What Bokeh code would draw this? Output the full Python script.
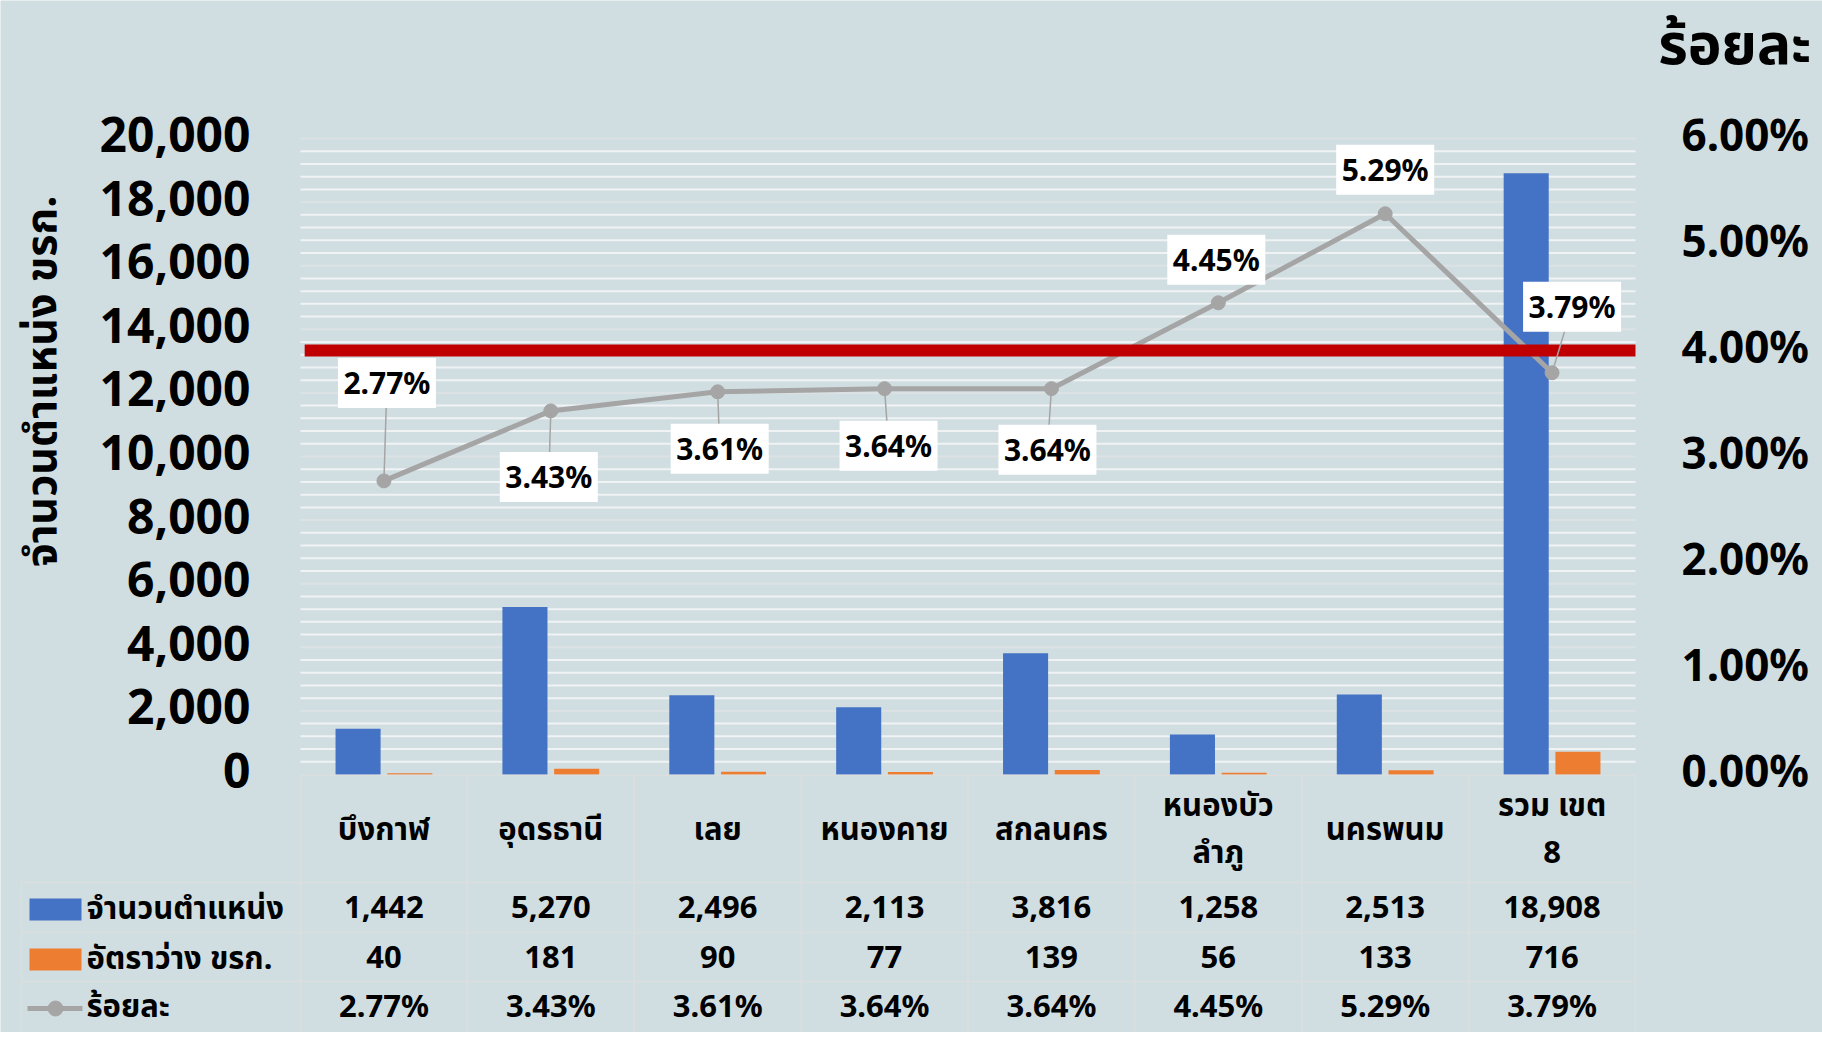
import numpy as np
from bokeh.plotting import figure
from bokeh.models import Range1d
from bokeh.core.properties import value
from bokeh.embed import file_html
from bokeh.resources import INLINE

# ---------------- data ----------------
categories = ["บึงกาฬ", "อุดรธานี", "เลย", "หนองคาย", "สกลนคร", "หนองบัว\nลำภู", "นครพนม", "รวม เขต\n8"]
positions = [1442, 5270, 2496, 2113, 3816, 1258, 2513, 18908]
vacancies = [40, 181, 90, 77, 139, 56, 133, 716]
percent = [2.77, 3.43, 3.61, 3.64, 3.64, 4.45, 5.29, 3.79]
threshold_pct = 4.0
series_names = ["จำนวนตำแหน่ง", "อัตราว่าง ขรก.", "ร้อยละ"]
left_ticks = [0, 2000, 4000, 6000, 8000, 10000, 12000, 14000, 16000, 18000, 20000]
left_tick_labels = ["0", "2,000", "4,000", "6,000", "8,000", "10,000", "12,000", "14,000", "16,000", "18,000", "20,000"]
right_ticks = [0, 1, 2, 3, 4, 5, 6]
right_tick_labels = ["0.00%", "1.00%", "2.00%", "3.00%", "4.00%", "5.00%", "6.00%"]
y_title = "จำนวนตำแหน่ง ขรก."
right_title = "ร้อยละ"

# ---------------- styles / layout ----------------
BG = "#D0DEE2"
BLUE = "#4472C4"
ORANGE = "#ED7D31"
GRAY = "#A5A5A5"
RED = "#C00000"
GRID_MINOR = "#F0F2F3"
GRID_MAJOR = "#DCE2E4"
TABLE_LINE = "#DCDEDE"
FONT = value("Noto Sans, Noto Sans Thai, sans-serif")

W, H = 1822, 1032
FL, FR, FT, FB = 300, 1635, 138, 774   # plot frame in pixels
n = len(categories)
xpx = (FR - FL) / n
ymax = 20000
ypx = (FB - FT) / ymax
pmax = 6.0
ppx = (FB - FT) / pmax

# data-label offsets (pixels, +down) and leader flags
lab_dx = [3, -2, 2, 4, -4, -2, 0, 20]
lab_dy = [-98, 66, 57, 57, 61, -43, -44, -66]
leader = [True, True, True, True, True, False, False, True]

p = figure(width=W, height=H,
           x_range=Range1d(-FL / xpx, n + (W - FR) / xpx),
           y_range=Range1d(-(H - FB) / ypx, FB / ypx),
           min_border=0, x_axis_location=None, y_axis_location=None,
           toolbar_location=None, output_backend="svg",
           background_fill_color=BG, border_fill_color=BG, outline_line_color=None)
p.grid.visible = False
p.extra_x_ranges = {"px": Range1d(0, W)}
p.extra_y_ranges = {"pct": Range1d(-(H - FB) / ppx, FB / ppx), "py": Range1d(H, 0)}

xc = np.arange(n) + 0.5

# gridlines
gv = np.arange(400, ymax + 1, 400)
gcol = [GRID_MAJOR if v % 2000 == 0 else GRID_MINOR for v in gv]
p.segment(x0=0, x1=n, y0=gv, y1=gv, line_color=gcol, line_width=2)

# bars
p.vbar(x=xc - 0.155, top=positions, bottom=0, width=0.27, fill_color=BLUE, line_color=None)
p.vbar(x=xc + 0.155, top=vacancies, bottom=0, width=0.27, fill_color=ORANGE, line_color=None)

# percentage line
p.line(xc, percent, y_range_name="pct", line_color=GRAY, line_width=5)
p.scatter(xc, percent, y_range_name="pct", size=14, fill_color=GRAY, line_color=GRAY)

# threshold
p.segment(x0=0.025, x1=n, y0=threshold_pct, y1=threshold_pct, y_range_name="pct",
          line_color=RED, line_width=12)

# data labels
lx = xc + np.array(lab_dx) / xpx
ly = np.array(percent) - np.array(lab_dy) / ppx
for i in range(n):
    if leader[i]:
        p.segment(x0=xc[i], y0=percent[i], x1=lx[i], y1=ly[i], y_range_name="pct",
                  line_color=GRAY, line_width=1.5)
p.rect(x=lx, y=ly, width=98, height=50, width_units="screen", height_units="screen",
       y_range_name="pct", fill_color="white", line_color=None)
p.text(x=lx, y=ly, text=["%.2f%%" % v for v in percent], y_range_name="pct",
       text_font=FONT, text_font_style="bold", text_font_size="30px",
       text_align="center", text_baseline="middle", text_color="black")

# axis tick labels
p.text(x=[250] * len(left_ticks), y=left_ticks, text=left_tick_labels, x_range_name="px",
       y_offset=-4, text_font=FONT, text_font_style="bold", text_font_size="48px",
       text_align="right", text_baseline="middle", text_color="black")
p.text(x=[1681] * len(right_ticks), y=right_ticks, text=right_tick_labels, x_range_name="px",
       y_range_name="pct", y_offset=-5, text_font=FONT, text_font_style="bold",
       text_font_size="44px", text_align="left", text_baseline="middle", text_color="black")
p.text(x=[39], y=[381], text=[y_title], angle=np.pi / 2, x_range_name="px", y_range_name="py",
       text_font=FONT, text_font_style="bold", text_font_size="43px",
       text_align="center", text_baseline="middle", text_color="black")
p.text(x=[1811], y=[41], text=[right_title], x_range_name="px", y_range_name="py",
       text_font=FONT, text_font_style="bold", text_font_size="57px",
       text_align="right", text_baseline="middle", text_color="black")

# data table
TOP = 775
ROWS = [882, 932, 981]
ROW_TEXT = [906, 956, 1004]
HEAD_TEXT = 827
LEG_L = 21
p.segment(x0=0, x1=n, y0=TOP, y1=TOP, y_range_name="py", line_color=TABLE_LINE, line_width=1.5)
for r in ROWS:
    p.segment(x0=LEG_L, x1=FR, y0=r, y1=r, x_range_name="px", y_range_name="py",
              line_color=TABLE_LINE, line_width=1.5)
p.segment(x0=np.arange(n + 1), x1=np.arange(n + 1), y0=TOP, y1=H, y_range_name="py",
          line_color=TABLE_LINE, line_width=1.5)
p.segment(x0=LEG_L, x1=LEG_L, y0=ROWS[0], y1=H, x_range_name="px", y_range_name="py",
          line_color=TABLE_LINE, line_width=1.5)

tstyle = dict(text_font=FONT, text_font_style="bold", text_font_size="31px",
              text_baseline="middle", text_color="black")
p.text(x=xc, y=[HEAD_TEXT] * n, text=categories, y_range_name="py", text_align="center",
       text_line_height=1.12, **tstyle)
p.text(x=xc, y=[ROW_TEXT[0]] * n, text=["{:,}".format(v) for v in positions], y_range_name="py",
       text_align="center", **tstyle)
p.text(x=xc, y=[ROW_TEXT[1]] * n, text=["{:,}".format(v) for v in vacancies], y_range_name="py",
       text_align="center", **tstyle)
p.text(x=xc, y=[ROW_TEXT[2]] * n, text=["%.2f%%" % v for v in percent], y_range_name="py",
       text_align="center", **tstyle)

# legend keys
p.rect(x=[55, 55], y=[ROW_TEXT[0] + 3, ROW_TEXT[1] + 3], width=52, height=22,
       x_range_name="px", y_range_name="py", fill_color=[BLUE, ORANGE], line_color=None)
p.segment(x0=27, x1=82, y0=ROW_TEXT[2] + 4, y1=ROW_TEXT[2] + 4, x_range_name="px",
          y_range_name="py", line_color=GRAY, line_width=5)
p.scatter(x=[55], y=[ROW_TEXT[2] + 4], x_range_name="px", y_range_name="py", size=15,
          fill_color=GRAY, line_color=GRAY)
p.text(x=[86] * 3, y=ROW_TEXT, text=series_names, x_range_name="px", y_range_name="py",
       text_align="left", **tstyle)

open("out.html", "w").write(file_html(p, INLINE))
